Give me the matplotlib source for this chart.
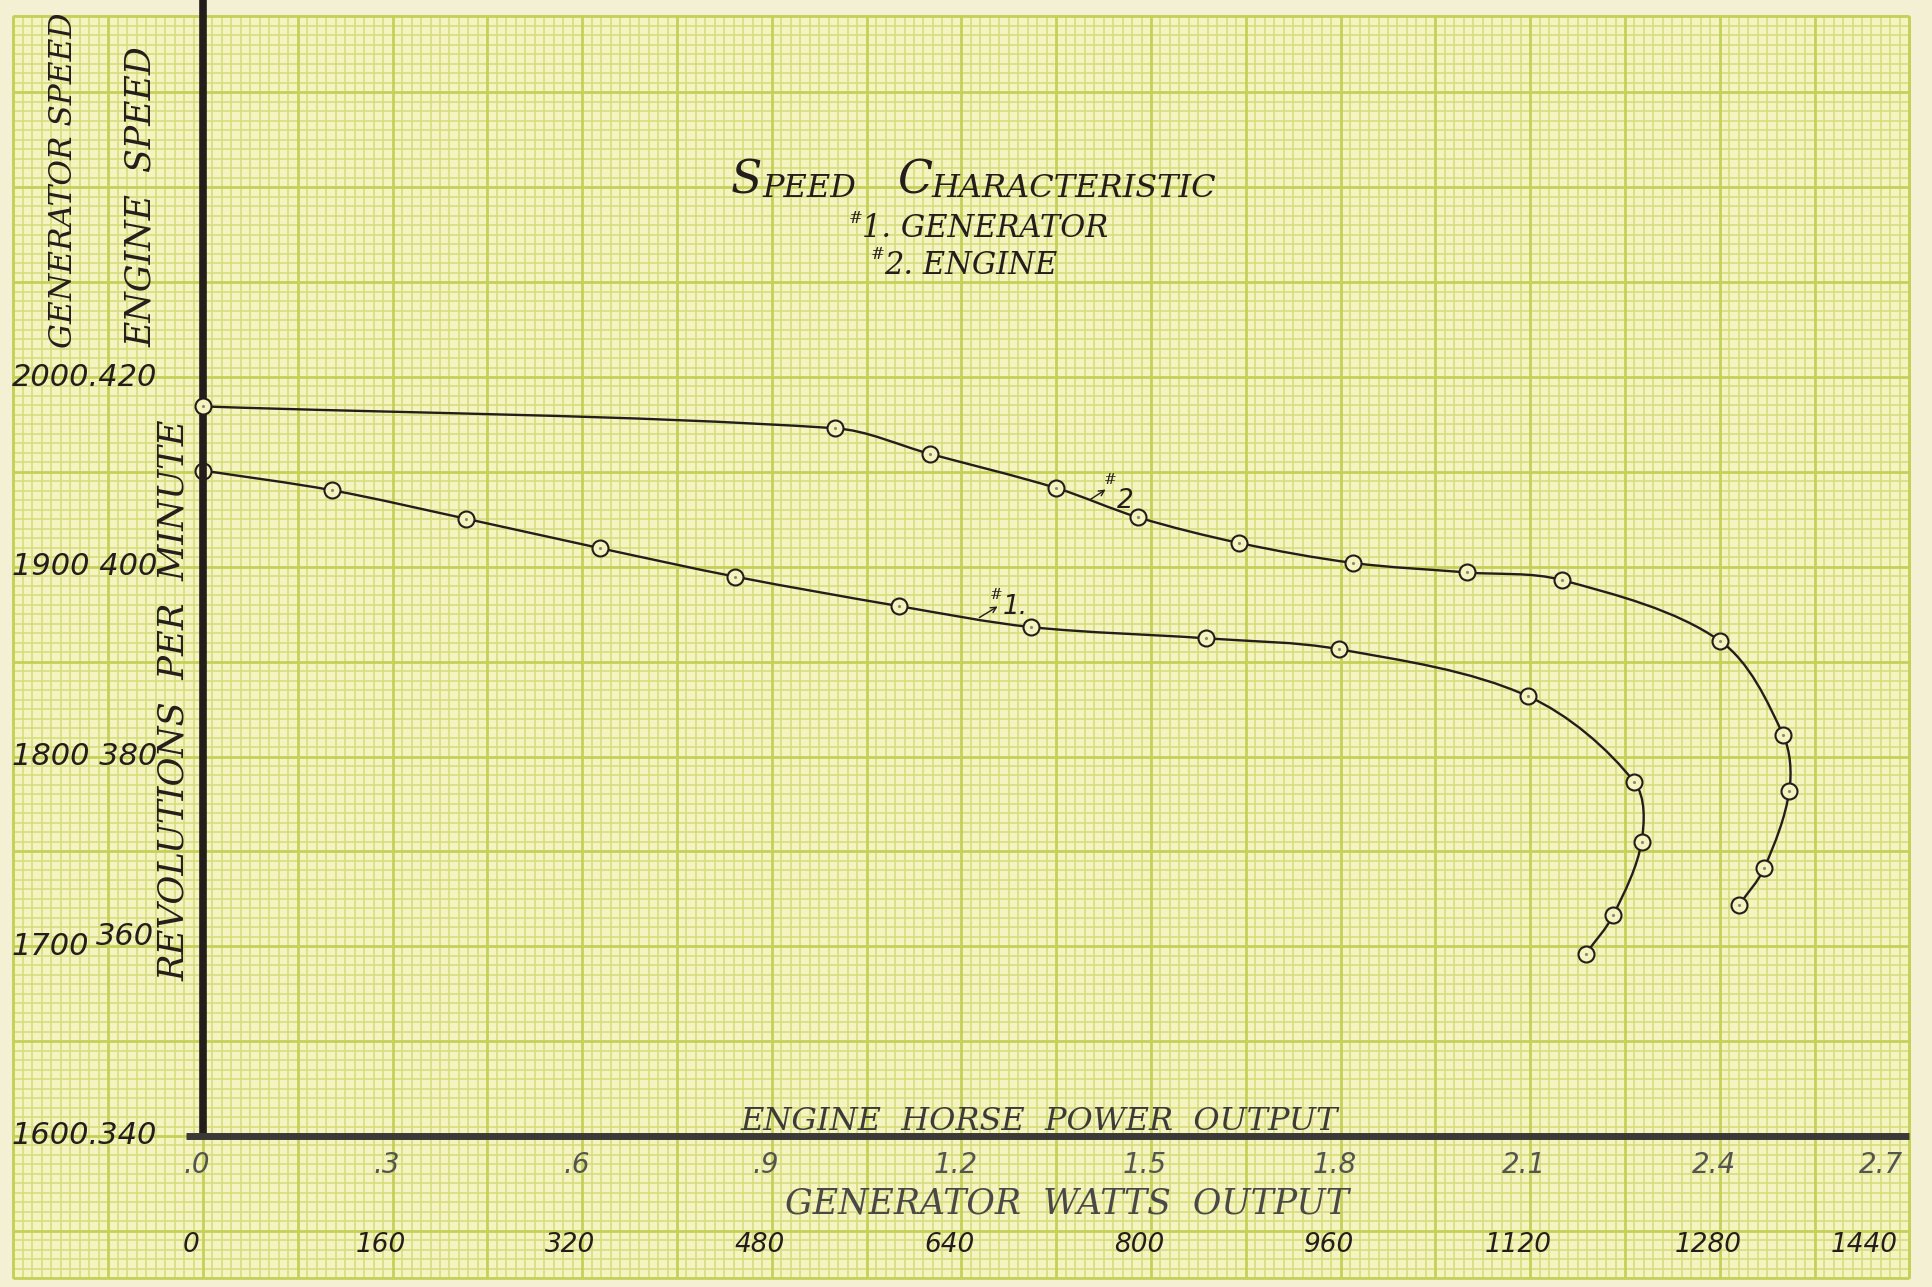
import matplotlib.pyplot as plt
import numpy as np
from matplotlib.path import Path
from matplotlib.patches import PathPatch, Rectangle
from matplotlib.transforms import blended_transform_factory, offset_copy

# --- data ---
# curve #2 : engine, horse power vs engine r.p.m.
eng_hp = [0.0, 1.00, 1.15, 1.35, 1.48, 1.64, 1.82, 2.00, 2.15, 2.40, 2.50, 2.51, 2.47, 2.43]
eng_rpm = [416.9, 414.6, 411.9, 408.3, 405.2, 402.5, 400.4, 399.4, 398.6, 392.2, 382.3, 376.4, 368.2, 364.3]
# curve #1 : generator, watts vs generator r.p.m.
gen_watts = [0, 109, 222, 335, 449, 587, 699, 846, 959, 1118, 1208, 1214, 1190, 1167]
gen_rpm = [1950.7, 1940.3, 1925.3, 1909.8, 1894.8, 1879.3, 1868.2, 1862.3, 1856.5, 1831.8, 1786.4, 1755.2, 1716.3, 1696.1]

hp_ticks = [0, 0.3, 0.6, 0.9, 1.2, 1.5, 1.8, 2.1, 2.4, 2.7]
hp_labels = ['.0', '.3', '.6', '.9', '1.2', '1.5', '1.8', '2.1', '2.4', '2.7']
watt_ticks = [0, 160, 320, 480, 640, 800, 960, 1120, 1280, 1440]
watt_labels = ['0', '160', '320', '480', '640', '800', '960', '1120', '1280', '1440']
gen_ticks = [2000, 1900, 1800, 1700, 1600]
y_labels = ['2000.420', '1900 400', '1800 380', '1700', '1600.340']

# --- sheet geometry (pixels) ---
W, H = 1932, 1287
X0, PX_HP = 203, 632.0        # x pixel of 0 and pixels per hp
Y2000, Y1600 = 377, 1136      # y pixels of 2000 and 1600 gen rpm
PX_RPM = (Y1600 - Y2000) / 400.0

hp_lim = (-X0 / PX_HP, (W - X0) / PX_HP)
watt_lim = tuple(v * 1440 / 2.7 for v in hp_lim)
gen_lim = (1600 - (H - Y1600) / PX_RPM, 2000 + Y2000 / PX_RPM)
eng_lim = tuple(340 + (g - 1600) / 5 for g in gen_lim)

PAPER = '#f5f3c0'
OUTER = '#f4f0d4'
MINOR = '#d5de80'
MAJOR = '#c4d159'
INK = '#231e1b'

fig = plt.figure(figsize=(W / 100, H / 100), dpi=100, facecolor=OUTER)
ax_g = fig.add_axes([0, 0, 1, 1])   # generator: watts / gen rpm
ax_e = fig.add_axes([0, 0, 1, 1])   # engine: hp / engine rpm
for a in (ax_g, ax_e):
    a.set_axis_off()
    a.patch.set_alpha(0)
ax_g.set_xlim(*watt_lim)
ax_g.set_ylim(*gen_lim)
ax_e.set_xlim(*hp_lim)
ax_e.set_ylim(*eng_lim)

# graph paper (in watts / gen rpm units: 8 W and 5 rpm per small square)
gx0, gx1, gy0, gy1 = -160, 1440, 1525, 2190
ax_g.add_patch(Rectangle((gx0, gy0), gx1 - gx0, gy1 - gy0, fc=PAPER, ec='none', zorder=0))
xs = np.arange(gx0, gx1 + 1, 8)
ys = np.arange(gy0, gy1 + 1, 5)
ax_g.vlines([v for v in xs if v % 80], gy0, gy1, colors=MINOR, lw=1.2, zorder=1)
ax_g.hlines([v for v in ys if v % 50], gx0, gx1, colors=MINOR, lw=1.2, zorder=1)
ax_g.vlines([v for v in xs if v % 80 == 0], gy0, gy1, colors=MAJOR, lw=2.0, zorder=1)
ax_g.hlines([v for v in ys if v % 50 == 0], gx0, gx1, colors=MAJOR, lw=2.0, zorder=1)
ax_g.vlines([gx0, gx1], gy0, gy1, colors=MAJOR, lw=2.0, zorder=1)
ax_g.hlines([gy0, gy1], gx0, gx1, colors=MAJOR, lw=2.0, zorder=1)

# heavy axes drawn on the sheet
ax_g.plot([0, 0], [1600, gen_lim[1]], color=INK, lw=5.5, solid_capstyle='butt', zorder=6)
ax_g.plot([-14, 1440], [1600, 1600], color='#3a3936', lw=5.0, solid_capstyle='butt', zorder=6)


def smooth(a, xv, yv):
    # french-curve style line through the plotted points (chord-length bezier)
    d = a.transData.transform(np.column_stack([xv, yv]))
    t = np.concatenate([[0], np.cumsum(np.hypot(*np.diff(d, axis=0).T))])
    n = len(d)
    m = np.zeros_like(d)
    m[0] = (d[1] - d[0]) / (t[1] - t[0])
    m[-1] = (d[-1] - d[-2]) / (t[-1] - t[-2])
    for i in range(1, n - 1):
        m[i] = (d[i + 1] - d[i - 1]) / (t[i + 1] - t[i - 1])
    verts, codes = [d[0]], [Path.MOVETO]
    for i in range(n - 1):
        h = t[i + 1] - t[i]
        verts += [d[i] + m[i] * h / 3, d[i + 1] - m[i + 1] * h / 3, d[i + 1]]
        codes += [Path.CURVE4] * 3
    return Path(a.transData.inverted().transform(np.array(verts)), codes)


for a, xv, yv in ((ax_e, eng_hp, eng_rpm), (ax_g, gen_watts, gen_rpm)):
    a.add_patch(PathPatch(smooth(a, xv, yv), fill=False, ec=INK, lw=1.7, zorder=3))
    a.plot(xv, yv, 'o', ms=11.5, mfc=PAPER, mec=INK, mew=1.5, zorder=4)
    a.plot(xv, yv, '.', ms=2.5, color='#8d8c72', zorder=4)

serif = dict(family='DejaVu Serif', style='italic')
sans = dict(family='DejaVu Sans', style='oblique')


def fx(x):
    return x / W


def fy(y):
    return 1 - y / H


# y scale figures
lt = blended_transform_factory(fig.transFigure, ax_g.transData)
for g, lab in zip(gen_ticks, y_labels):
    ax_g.text(12 / W, g, lab, transform=lt, ha='left', va='center', fontsize=22,
              color=INK, **sans)
ax_g.text(96 / W, 1705, '360', transform=lt, ha='left', va='center', fontsize=22, color=INK, **sans)

# x scale figures
bt = blended_transform_factory(ax_e.transData, fig.transFigure)
for v, lab in zip(hp_ticks, hp_labels):
    ha = 'right' if v == hp_ticks[-1] else 'center'
    ax_e.text(v, fy(1165), lab, transform=offset_copy(bt, fig, x=-6, units='dots'),
              ha=ha, va='center', fontsize=20, color='#55554f', **sans)
bw = blended_transform_factory(ax_g.transData, fig.transFigure)
for v, lab in zip(watt_ticks, watt_labels):
    ha = 'right' if v == watt_ticks[-1] else 'center'
    ax_g.text(v, fy(1245), lab, transform=offset_copy(bw, fig, x=-12, units='dots'),
              ha=ha, va='center', fontsize=19, color=INK, **sans)

# axis titles
fig.text(fx(64), fy(180), 'GENERATOR SPEED', rotation=90, ha='center', va='center',
         fontsize=22.5, color=INK, **serif)
fig.text(fx(141), fy(197), 'ENGINE  SPEED', rotation=90, ha='center', va='center',
         fontsize=25, color=INK, **serif)
fig.text(fx(174), fy(700), 'REVOLUTIONS  PER  MINUTE', rotation=90, ha='center', va='center',
         fontsize=25.5, color=INK, **serif)
fig.text(fx(1039), fy(1121), 'ENGINE  HORSE  POWER  OUTPUT', ha='center', va='center',
         fontsize=23, color='#3c3b38', **serif)
fig.text(fx(1067), fy(1204), 'GENERATOR  WATTS  OUTPUT', ha='center', va='center',
         fontsize=25, color='#4a4945', **serif)

# title in small capitals: each piece chained to the end of the previous one
prev = fig.text(fx(731), fy(194), 'S', ha='left', va='baseline', fontsize=33, color=INK, **serif)
for s, size in (('PEED    ', 23), ('C', 33), ('HARACTERISTIC', 23)):
    prev = fig.add_artist(plt.Annotation(s, xy=(1, 0), xycoords=prev, va='bottom', ha='left',
                                         fontsize=size, color=INK, annotation_clip=False, **serif))

fig.text(fx(849), fy(223), '#', ha='left', va='baseline', fontsize=12, color=INK, **serif)
fig.text(fx(862), fy(237), '1. GENERATOR', ha='left', va='baseline', fontsize=22, color=INK, **serif)
fig.text(fx(871), fy(259), '#', ha='left', va='baseline', fontsize=12, color=INK, **serif)
fig.text(fx(884), fy(274), '2. ENGINE', ha='left', va='baseline', fontsize=22, color=INK, **serif)

# curve tags
fig.add_artist(plt.Annotation('', xy=(fx(1108), fy(488)), xycoords='figure fraction',
                              xytext=(fx(1088), fy(501)), textcoords='figure fraction',
                              arrowprops=dict(arrowstyle='->', color=INK, lw=1.0, mutation_scale=10)))
fig.text(fx(1104), fy(484), '#', fontsize=11, color=INK, **serif)
fig.text(fx(1117), fy(508), '2', fontsize=19, color=INK, **sans)
fig.add_artist(plt.Annotation('', xy=(fx(1000), fy(605)), xycoords='figure fraction',
                              xytext=(fx(977), fy(619)), textcoords='figure fraction',
                              arrowprops=dict(arrowstyle='->', color=INK, lw=1.0, mutation_scale=10)))
fig.text(fx(990), fy(599), '#', fontsize=11, color=INK, **serif)
fig.text(fx(1003), fy(614), '1.', fontsize=19, color=INK, **sans)

fig.savefig('out.png', dpi=100, facecolor=OUTER)
